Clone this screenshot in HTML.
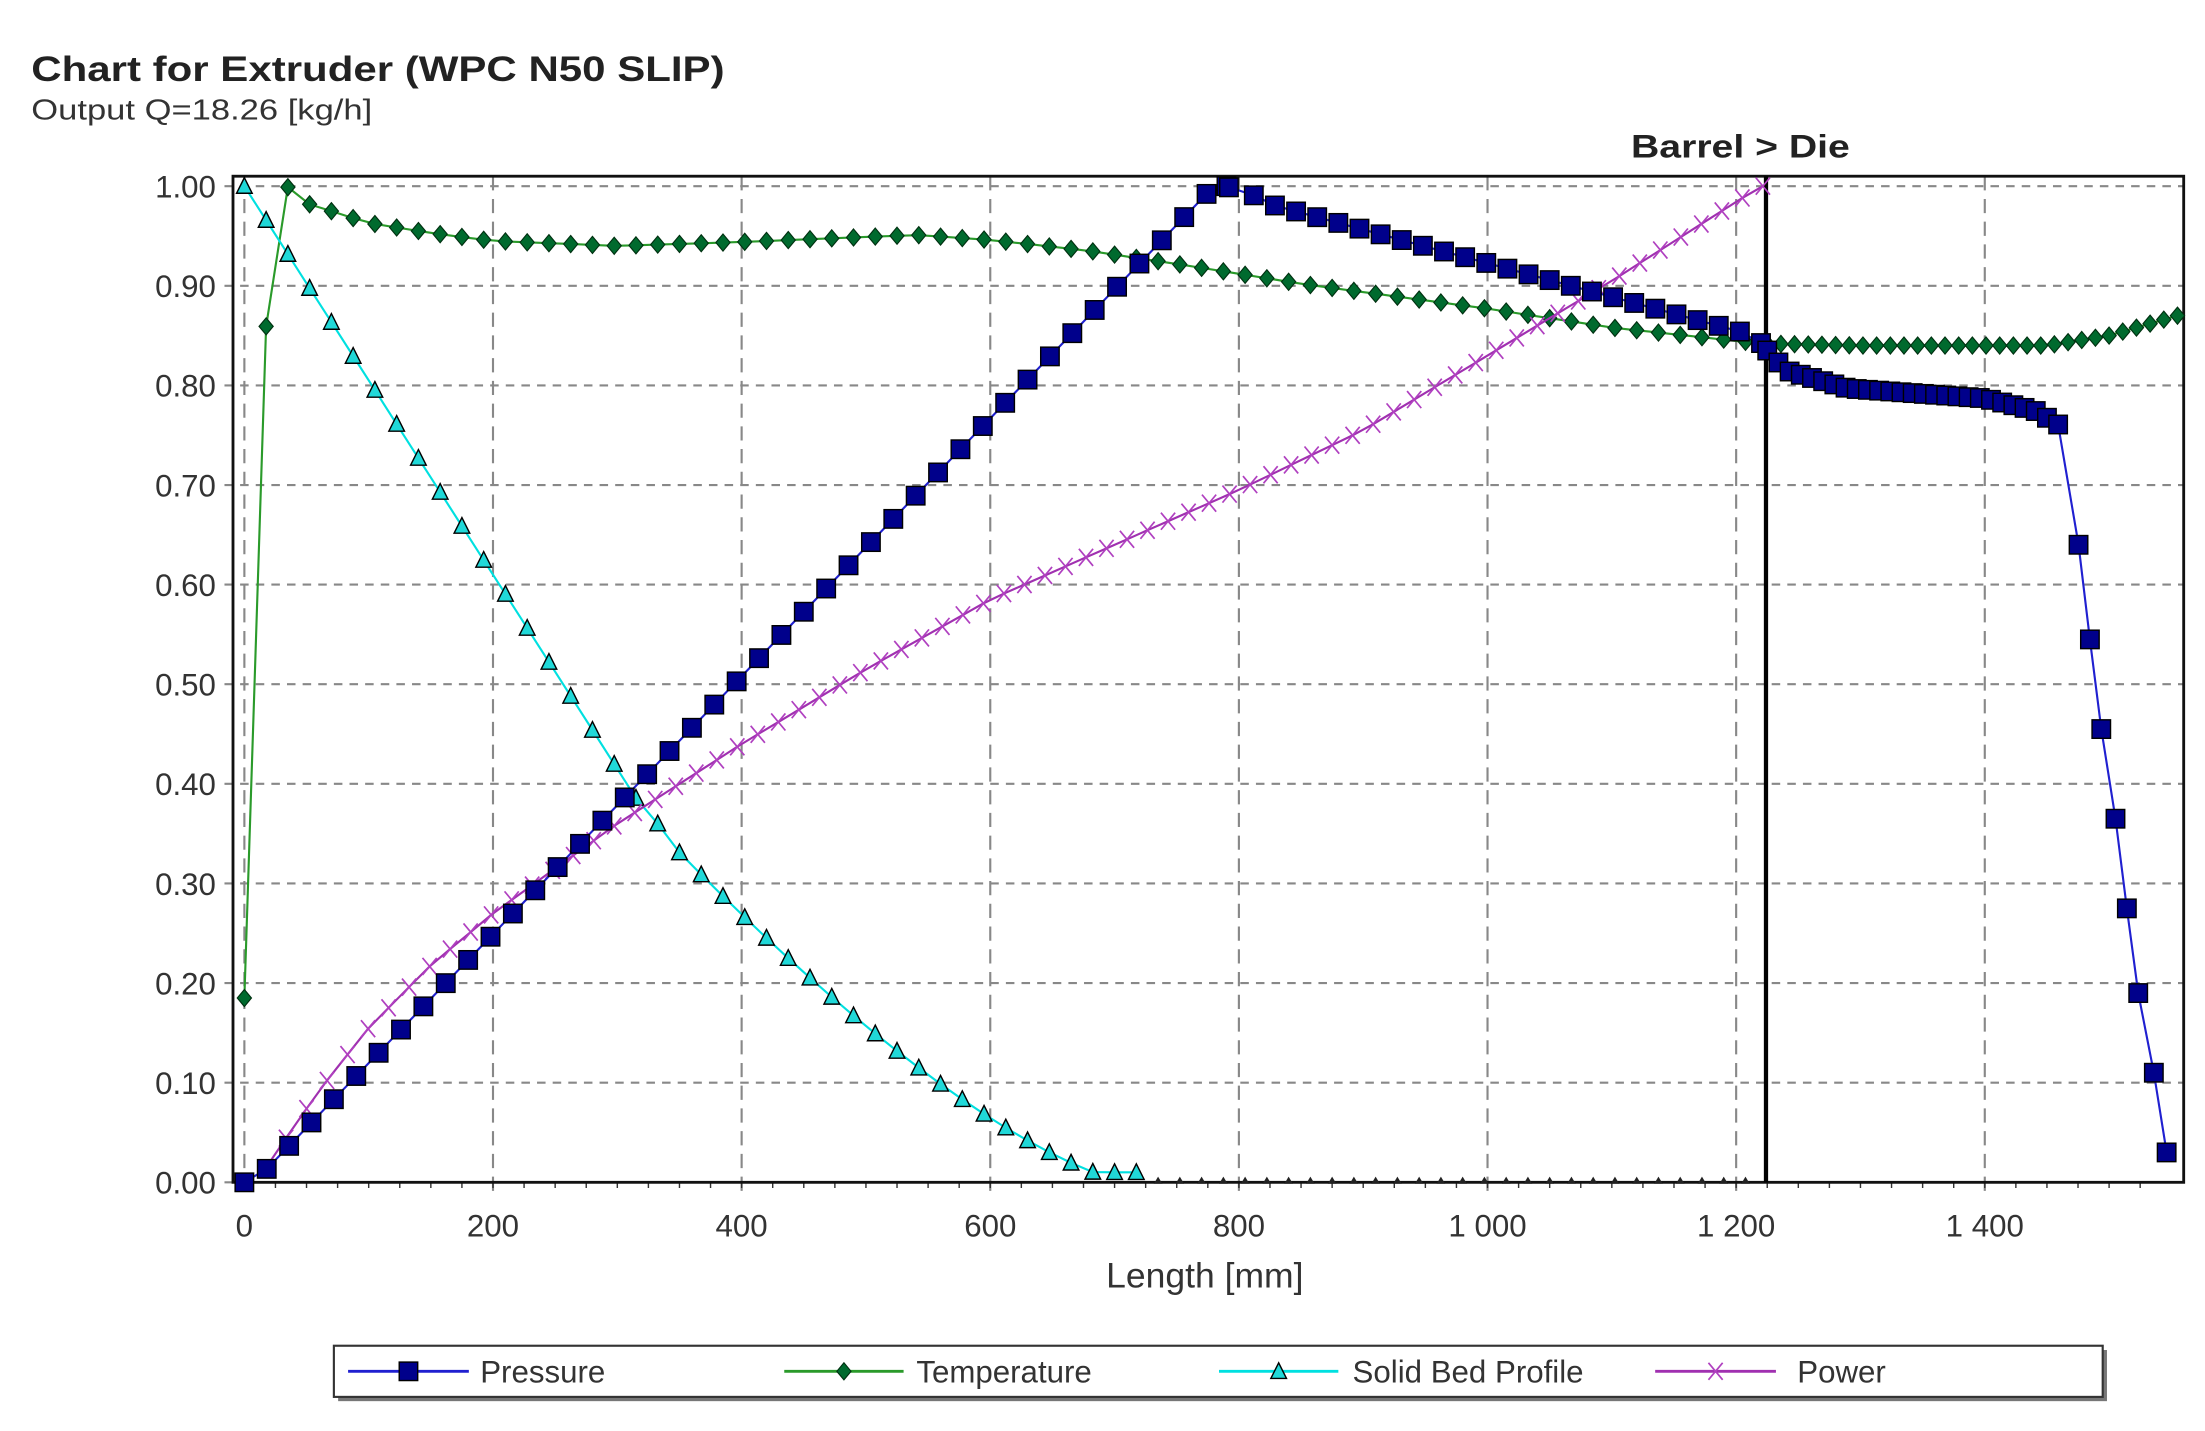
<!DOCTYPE html>
<html><head><meta charset="utf-8">
<style>
html,body{margin:0;padding:0;background:#fff;}
svg{display:block;}
text{font-family:"Liberation Sans",sans-serif;}
</style></head>
<body>
<svg id="s" width="2205" height="1431" viewBox="0 0 1552 1007" preserveAspectRatio="none" xmlns="http://www.w3.org/2000/svg">
<rect width="1552" height="1007" fill="#fff"/>
<text x="22" y="57" font-size="25" font-weight="bold" fill="#222" textLength="488" lengthAdjust="spacingAndGlyphs">Chart for Extruder (WPC N50 SLIP)</text>
<text x="22" y="84" font-size="20" fill="#333" textLength="240" lengthAdjust="spacingAndGlyphs">Output Q=18.26 [kg/h]</text>
<text x="1148" y="111" font-size="23" font-weight="bold" fill="#222" textLength="154" lengthAdjust="spacingAndGlyphs">Barrel &gt; Die</text>
<g id="grid"></g>
<rect x="164" y="124" width="1373" height="708" fill="none" stroke="#111" stroke-width="2"/>
<line x1="1243" y1="124" x2="1243" y2="832" stroke="#000" stroke-width="3"/>
<g id="series"></g>
<g id="labels" font-size="22" fill="#333"></g>
<text x="848" y="906" font-size="25" fill="#333" text-anchor="middle">Length [mm]</text>
<rect x="238" y="950" width="1245" height="36" fill="#777"/>
<rect x="235" y="947" width="1245" height="36" fill="#fff" stroke="#333" stroke-width="1.5"/>
<g id="legend"></g>
</svg>
<script>
var NS="http://www.w3.org/2000/svg";
function px(mm){return 172+0.875*mm;}
function py(v){return 832-701*v;}
function el(parent,tag,attrs){var e=document.createElementNS(NS,tag);for(var k in attrs)e.setAttribute(k,attrs[k]);document.getElementById(parent).appendChild(e);return e;}
function elIn(p,tag,attrs){var e=document.createElementNS(NS,tag);for(var k in attrs)e.setAttribute(k,attrs[k]);p.appendChild(e);return e;}
for(var i=0;i<=10;i++){var y=py(i/10);el("grid","line",{x1:158,y1:y,x2:1537,y2:y,stroke:"#888","stroke-width":1.5,"stroke-dasharray":"6,5"});
 var t=el("labels","text",{x:152,y:y+8,"text-anchor":"end"});t.textContent=(i/10).toFixed(2);}
var xl=["0","200","400","600","800","1 000","1 200","1 400"];
for(var i=0;i<8;i++){var x=px(i*200);el("grid","line",{x1:x,y1:124,x2:x,y2:838,stroke:"#888","stroke-width":1.5,"stroke-dasharray":"10,6"});
 var t=el("labels","text",{x:x,y:870,"text-anchor":"middle"});t.textContent=xl[i];}
for(var m=0;m<=1540;m+=25){el("grid","line",{x1:px(m),y1:832,x2:px(m),y2:836,stroke:"#333","stroke-width":1});}
function interp(a,x){for(var i=0;i<a.length-1;i++){if(x<=a[i+1][0]){var t=(x-a[i][0])/(a[i+1][0]-a[i][0]);return a[i][1]+t*(a[i+1][1]-a[i][1]);}}return a[a.length-1][1];}
function sq(g,x,y){elIn(g,"rect",{x:x-6.5,y:y-6.5,width:13,height:13,fill:"#00008b",stroke:"#000","stroke-width":1});}
function di(g,x,y){elIn(g,"polygon",{points:(x)+","+(y-6)+" "+(x+5)+","+y+" "+x+","+(y+6)+" "+(x-5)+","+y,fill:"#006a2e",stroke:"#003010","stroke-width":0.8});}
function tr(g,x,y){elIn(g,"polygon",{points:x+","+(y-6)+" "+(x+5.5)+","+(y+5)+" "+(x-5.5)+","+(y+5),fill:"#20d8d8",stroke:"#000","stroke-width":1});}
function cr(g,x,y){elIn(g,"path",{d:"M"+(x-5)+","+(y-6)+"L"+(x+5)+","+(y+6)+"M"+(x+5)+","+(y-6)+"L"+(x-5)+","+(y+6),stroke:"#b040c0","stroke-width":1.2,fill:"none"});}
function series(pts,color,mk){var g=document.getElementById("series");var d="";pts.forEach(function(p,i){d+=(i?"L":"M")+p[0].toFixed(1)+","+p[1].toFixed(1);});
 elIn(g,"path",{d:d,stroke:color,"stroke-width":1.5,fill:"none"});var gg=elIn(g,"g",{});pts.forEach(function(p){mk(gg,p[0],p[1]);});}
var sb=[];for(var m=0;m<=720;m+=17.5){var v;if(m<=330)v=1-0.00195*m;else{var t=(m-343)/370;v=t>=1?0:0.34*Math.pow(Math.max(0,1-t),1.4);if(m<343)v=0.36;}sb.push([px(m),py(Math.max(v,0.01))]);}
var sbz=[];for(var m=735;m<=1215;m+=17.5)sbz.push([px(m),py(0)]);
var ta=[[0,0.185],[17,0.855],[34,1.0],[52,0.982],[100,0.963],[150,0.953],[200,0.945],[300,0.94],[400,0.944],[540,0.951],[600,0.946],[680,0.935],[760,0.92],[850,0.902],[1000,0.877],[1100,0.858],[1220,0.842],[1300,0.84],[1450,0.84],[1500,0.85],[1555,0.87]];
var tp=[];for(var m=0;m<1225;m+=17.5)tp.push([px(m),py(interp(ta,m))]);for(var m=1225;m<=1555;m+=11)tp.push([px(m),py(interp(ta,m))]);
var pa=[[0,0],[20,0.015],[40,0.042],[780,1.0],[800,0.998],[830,0.98],[1215,0.85],[1225,0.835],[1240,0.815],[1290,0.797],[1400,0.787],[1440,0.775],[1460,0.76],[1466,0.745]];
var pp=[];for(var m=0;m<=800;m+=18)pp.push([px(Math.min(m,800)),py(interp(pa,m))]);pp.push([px(790),py(1.0)]);
pp=pp.sort(function(a,b){return a[0]-b[0];});
for(var m=812;m<1225;m+=17)pp.push([px(m),py(interp(pa,m))]);for(var m=1225;m<=1466;m+=9)pp.push([px(m),py(interp(pa,m))]);
[[1463,0.64],[1471,0.545],[1479,0.455],[1489,0.365],[1497,0.275],[1505,0.19],[1516,0.11],[1525,0.03]].forEach(function(p){pp.push([p[0],py(p[1])]);});
var wa=[[10,0.0],[20,0.02],[60,0.092],[100,0.155],[150,0.218],[200,0.27],[300,0.36],[400,0.44],[500,0.515],[600,0.585],[700,0.64],[800,0.695],[900,0.755],[1000,0.83],[1100,0.905],[1220,1.0]];
var wp=[];for(var m=17;m<=1222;m+=16.5)wp.push([px(m),py(interp(wa,m))]);
series(tp,"#2a9a2a",di);
series(sb,"#00e0e0",tr);
(function(){var g=document.getElementById("series");sbz.forEach(function(p){elIn(g,"polygon",{points:p[0]+","+(p[1]-4)+" "+(p[0]+3)+","+(p[1]+1)+" "+(p[0]-3)+","+(p[1]+1),fill:"#222"});});})();
series(wp,"#a030b0",cr);
series(pp,"#2020d0",sq);
var L=document.getElementById("legend");
function leg(x1,x2,col,mk,tx,label){elIn(L,"line",{x1:x1,y1:965,x2:x2,y2:965,stroke:col,"stroke-width":2});mk(L,(x1+x2)/2,965);var t=elIn(L,"text",{x:tx,y:973,"font-size":22,fill:"#333"});t.textContent=label;}
leg(245,330,"#2020d0",sq,338,"Pressure");
leg(552,636,"#2a9a2a",di,645,"Temperature");
leg(858,942,"#00e0e0",tr,952,"Solid Bed Profile");
leg(1165,1250,"#a030b0",cr,1265,"Power");
</script>
</body></html>
